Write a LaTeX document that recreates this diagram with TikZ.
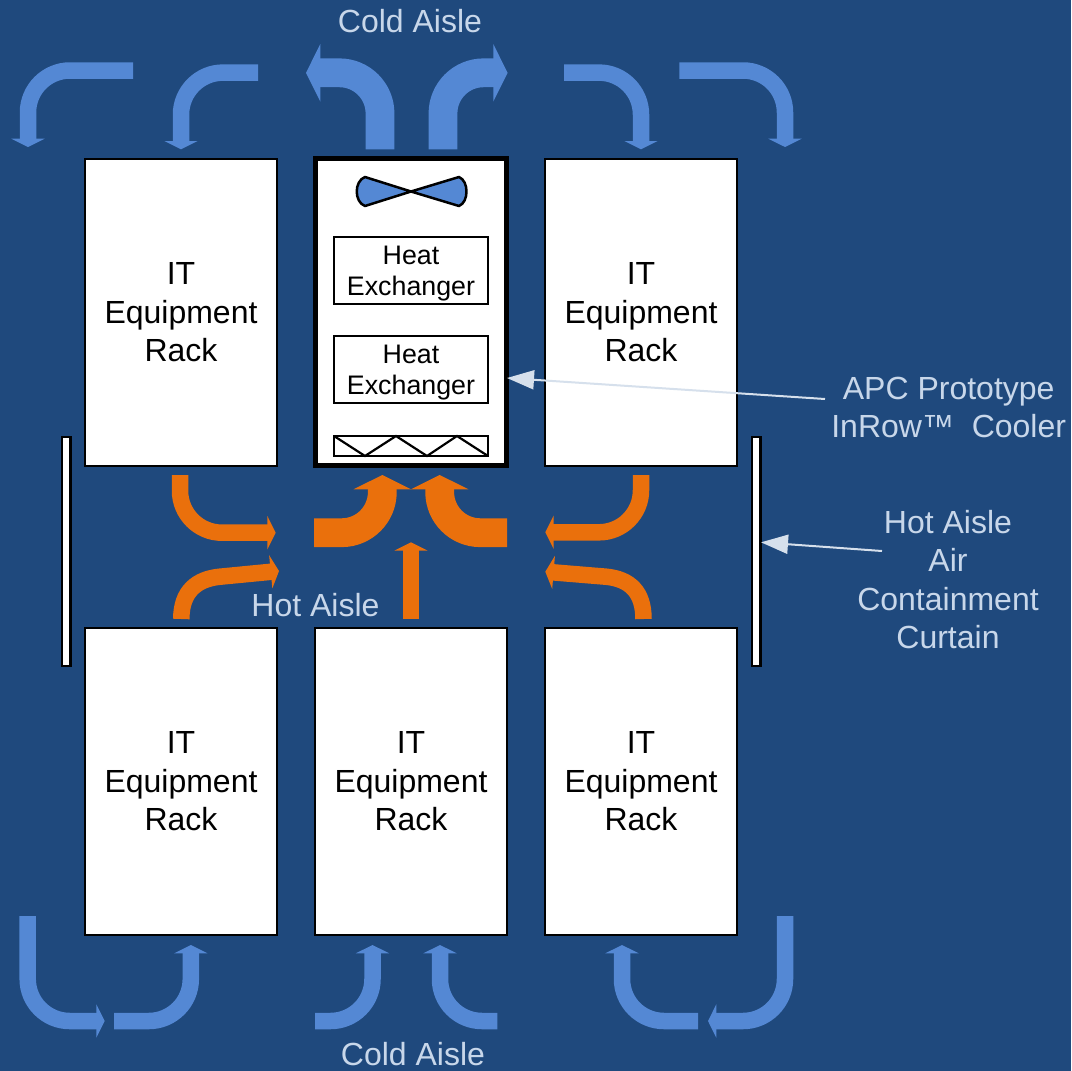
\documentclass[tikz,border=0pt]{standalone}
\usepackage{fontspec}
\setmainfont{Liberation Sans}
\usetikzlibrary{arrows.meta}
\definecolor{aislebg}{HTML}{1F497D}
\definecolor{coldblue}{HTML}{5488D4}
\definecolor{hotorange}{HTML}{EA700C}
\definecolor{labeltext}{HTML}{C8D7EA}
\definecolor{leaderfill}{HTML}{D6E0EC}
\begin{document}
\begin{tikzpicture}[x=1pt,y=-1pt,
  rack/.style={draw=black,fill=white,line width=2.5pt,minimum width=192pt,minimum height=307pt,align=center,inner sep=0pt,font=\fontsize{32}{38.4}\selectfont},
  coolerbody/.style={draw=black,fill=white,line width=5pt,minimum width=191pt,minimum height=307pt,inner sep=0pt},
  exchanger/.style={draw=black,fill=white,line width=2.2pt,minimum width=154pt,minimum height=67pt,align=center,inner sep=0pt,text depth=0pt,font=\fontsize{26.8}{31.3}\selectfont},
  curtain/.style={draw=black,fill=white,line width=2.5pt,minimum width=8.5pt,minimum height=229pt,inner sep=0pt},
  aislelabel/.style={text=labeltext,align=center,inner sep=0pt,font=\fontsize{32}{38.4}\selectfont},
  coldthin/.style={draw=coldblue,line width=16.5pt,rounded corners=42pt,-{Triangle[width=33pt,length=8.3pt]}},
  coldthick/.style={draw=coldblue,line width=28.8pt,rounded corners=40.6pt,-{Triangle[width=57pt,length=14.3pt]}},
  hotthin/.style={draw=hotorange,line width=16.5pt,rounded corners=42pt,-{Triangle[width=33pt,length=8.3pt]}},
  hotthick/.style={draw=hotorange,line width=28.8pt,rounded corners=40.6pt,-{Triangle[width=57pt,length=14.3pt]}},
  leader/.style={draw=leaderfill,line width=2pt,-{Triangle[width=19pt,length=27pt]}}]
\useasboundingbox (0,0) rectangle (1071,1071);
\fill[aislebg] (0,0) rectangle (1071,1071);

\node[rack] (racktopleft) at (181,312.5) {IT\\Equipment\\Rack};
\node[rack] (racktopright) at (641,312.5) {IT\\Equipment\\Rack};
\node[rack] (rackbottomleft) at (181,781.5) {IT\\Equipment\\Rack};
\node[rack] (rackbottommid) at (411,781.5) {IT\\Equipment\\Rack};
\node[rack] (rackbottomright) at (641,781.5) {IT\\Equipment\\Rack};

\node[coolerbody] (cooler) at (411,312) {};
\node[exchanger] (exchangerone) at (411,270.5) {Heat\\Exchanger};
\node[exchanger] (exchangertwo) at (411,369.5) {Heat\\Exchanger};
\node[draw=black,line width=2.2pt,minimum width=154pt,minimum height=20pt,inner sep=0pt] (filterbox) at (411,446) {};
\draw[black,line width=2.2pt] (334,436) -- (365,456) -- (396,436) -- (427,456) -- (457,436) -- (488,456);
\draw[black,fill=coldblue,line width=2.5pt,line join=round] (411,191.5) -- (365,177) .. controls (354,181) and (354,202) .. (365,206) -- (411,191.5) -- (459,206) .. controls (469,202) and (469,181) .. (459,177) -- cycle;

\node[curtain] (curtainleft) at (66,551.5) {};
\node[curtain] (curtainright) at (756,551.5) {};

\draw[coldthin] (133,70.5) -- (28,70.5) -- (28,147);
\draw[coldthin] (258,72.6) -- (181,72.6) -- (181,149.3);
\draw[coldthick] (380,149.3) -- (380,72.8) -- (306,72.8);
\draw[coldthick] (443,149.3) -- (443,72.8) -- (507.6,72.8);
\draw[coldthin] (564,72.6) -- (641,72.6) -- (641,149.3);
\draw[coldthin] (679.3,70.5) -- (785,70.5) -- (785,147);

\draw[hotthin] (180,475) -- (180,532.7) -- (275.7,532.7);
\draw[hotthin,sharp corners] (181.3,619) .. controls (181.3,592) and (196,579) .. (220,576.7) -- (279,571);
\draw[hotthick] (314,532.7) -- (382.3,532.7) -- (382.3,475);
\draw[hotthick] (507,532.7) -- (439.7,532.7) -- (439.7,475);
\draw[hotthin] (411,619) -- (411,542.3);
\draw[hotthin] (641,475) -- (641,532.3) -- (545.3,532.3);
\draw[hotthin,sharp corners] (643.5,619) .. controls (643.5,592) and (630,579) .. (606,576.7) -- (545.3,571.7);

\draw[coldthin] (27.7,916) -- (27.7,1021) -- (104.7,1021);
\draw[coldthin] (114,1021) -- (190.8,1021) -- (190.8,945);
\draw[coldthin] (315,1021) -- (372.5,1021) -- (372.5,945);
\draw[coldthin] (497.3,1021) -- (440,1021) -- (440,945);
\draw[coldthin] (698,1021) -- (622,1021) -- (622,945);
\draw[coldthin] (785,916) -- (785,1021) -- (708,1021);

\node[aislelabel] (coldtop) at (410,21) {Cold Aisle};
\node[aislelabel] (coldbottom) at (413,1054.5) {Cold Aisle};
\node[aislelabel] (hotaisle) at (315.5,605) {Hot Aisle};
\node[aislelabel] (apclabel) at (948.7,407.5) {APC Prototype\\InRow™\ \ Cooler};
\node[aislelabel] (curtainlabel) at (948,579.5) {Hot Aisle\\Air\\Containment\\Curtain};

\coordinate (apcstart) at (825,399);
\coordinate (apctip) at (507,378);
\coordinate (curtainstart) at (882,551);
\coordinate (curtaintip) at (761,542.3);
\draw[leader] (apcstart) -- (apctip);
\draw[leader] (curtainstart) -- (curtaintip);
\end{tikzpicture}
\end{document}
